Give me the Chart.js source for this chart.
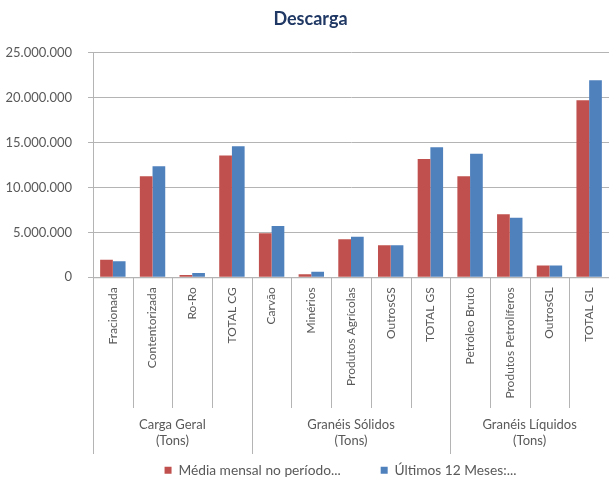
<!DOCTYPE html>
<html>
<head>
<meta charset="utf-8">
<script src="https://cdn.jsdelivr.net/npm/chart.js@4"></script>
<style>
  html, body { margin: 0; padding: 0; background: #fff; }
  #wrap { width: 609px; height: 484px; position: relative; }
</style>
</head>
<body>
<div id="wrap"><canvas id="c"></canvas></div>
<script>
const categories = ['Fracionada', 'Contentorizada', 'Ro-Ro', 'TOTAL CG', 'Carvão', 'Minérios', 'Produtos Agrícolas', 'OutrosGS', 'TOTAL GS', 'Petróleo Bruto', 'Produtos Petrolíferos', 'OutrosGL', 'TOTAL GL'];
const mediaMensal = [1940000, 11240000, 260000, 13550000, 4910000, 340000, 4240000, 3570000, 13170000, 11240000, 7000000, 1300000, 19690000];
const ultimos12 = [1790000, 12350000, 480000, 14590000, 5690000, 600000, 4500000, 3570000, 14480000, 13730000, 6630000, 1300000, 21920000];
const groupLabels = [['Carga Geral', '(Tons)'], ['Granéis Sólidos', '(Tons)'], ['Granéis Líquidos', '(Tons)']];
const groupSizes = [4, 5, 4];
const seriesNames = ['Média mensal no período...', 'Últimos 12 Meses:...'];
const yTicks = [0, 5000000, 10000000, 15000000, 20000000, 25000000];

const FONT = 'Lato, "Open Sans", sans-serif';
const TEXT = '#595959';
const GRID = '#B4B4B4';

function fmt(v) { return String(v).replace(/\B(?=(\d{3})+(?!\d))/g, '.'); }

const groupPlugin = {
  id: 'groups',
  afterLayout(chart) {
    // shift the centred title / legend slightly, as in the reference
    if (chart.titleBlock) { chart.titleBlock.left += 12; }
    if (chart.legend) { chart.legend.left += 72; chart.legend.top += 3; chart.legend.bottom += 3; }
  },
  afterDraw(chart) {
    const x = chart.scales.x;
    const ctx = chart.ctx;
    const w = x.getPixelForValue(1) - x.getPixelForValue(0);
    const left = x.getPixelForValue(0) - w / 2;
    const axisY = chart.chartArea.bottom;
    const groupBounds = [0];
    groupSizes.reduce((a, s) => { groupBounds.push(a + s); return a + s; }, 0);
    ctx.save();
    ctx.strokeStyle = GRID;
    ctx.lineWidth = 1;
    for (let i = 0; i <= categories.length; i++) {
      const px = Math.round(left + i * w) + 0.5;
      const isGroup = groupBounds.includes(i);
      ctx.beginPath();
      ctx.moveTo(px, axisY);
      ctx.lineTo(px, isGroup ? 454 : 408);
      ctx.stroke();
    }
    ctx.beginPath();
    ctx.moveTo(left, axisY + 0.5);
    ctx.lineTo(x.right, axisY + 0.5);
    ctx.stroke();
    ctx.fillStyle = TEXT;
    ctx.font = '13px ' + FONT;
    ctx.textAlign = 'center';
    ctx.textBaseline = 'middle';
    for (let g = 0; g < groupLabels.length; g++) {
      const cx = left + (groupBounds[g] + groupBounds[g + 1]) / 2 * w;
      ctx.fillText(groupLabels[g][0], cx, 425);
      ctx.fillText(groupLabels[g][1], cx, 441);
    }
    ctx.restore();
  }
};

new Chart(document.getElementById('c'), {
  type: 'bar',
  data: {
    labels: categories,
    datasets: [
      { label: seriesNames[0], data: mediaMensal, backgroundColor: '#C0504D', categoryPercentage: 0.64, barPercentage: 1.0 },
      { label: seriesNames[1], data: ultimos12, backgroundColor: '#4F81BD', categoryPercentage: 0.64, barPercentage: 1.0 }
    ]
  },
  options: {
    responsive: true,
    maintainAspectRatio: false,
    animation: false,
    layout: { padding: { left: 0, right: 0, top: 0, bottom: 0 } },
    plugins: {
      tooltip: { enabled: false },
      title: {
        display: true,
        text: 'Descarga',
        color: '#1F3864',
        font: { family: FONT, size: 18, weight: 'bold' },
        padding: { top: 8, bottom: 23 }
      },
      legend: {
        position: 'bottom',
        labels: {
          boxWidth: 7,
          boxHeight: 7,
          padding: 40,
          color: TEXT,
          font: { family: FONT, size: 13.75 }
        }
      }
    },
    scales: {
      y: {
        min: 0,
        max: 25000000,
        afterBuildTicks(scale) { scale.ticks = yTicks.map(v => ({ value: v })); },
        afterFit(scale) { scale.width = 93; },
        ticks: {
          padding: 16,
          color: TEXT,
          font: { family: FONT, size: 13 },
          callback: (v) => fmt(v)
        },
        grid: { color: GRID, tickLength: 5, drawTicks: true },
        border: { display: true, color: GRID }
      },
      x: {
        afterFit(scale) { scale.height = 143; },
        grid: { display: false },
        border: { display: false },
        ticks: {
          autoSkip: false,
          minRotation: 90,
          maxRotation: 90,
          padding: 2,
          color: TEXT,
          font: { family: FONT, size: 12 }
        }
      }
    }
  },
  plugins: [groupPlugin]
});
</script>
</body>
</html>
